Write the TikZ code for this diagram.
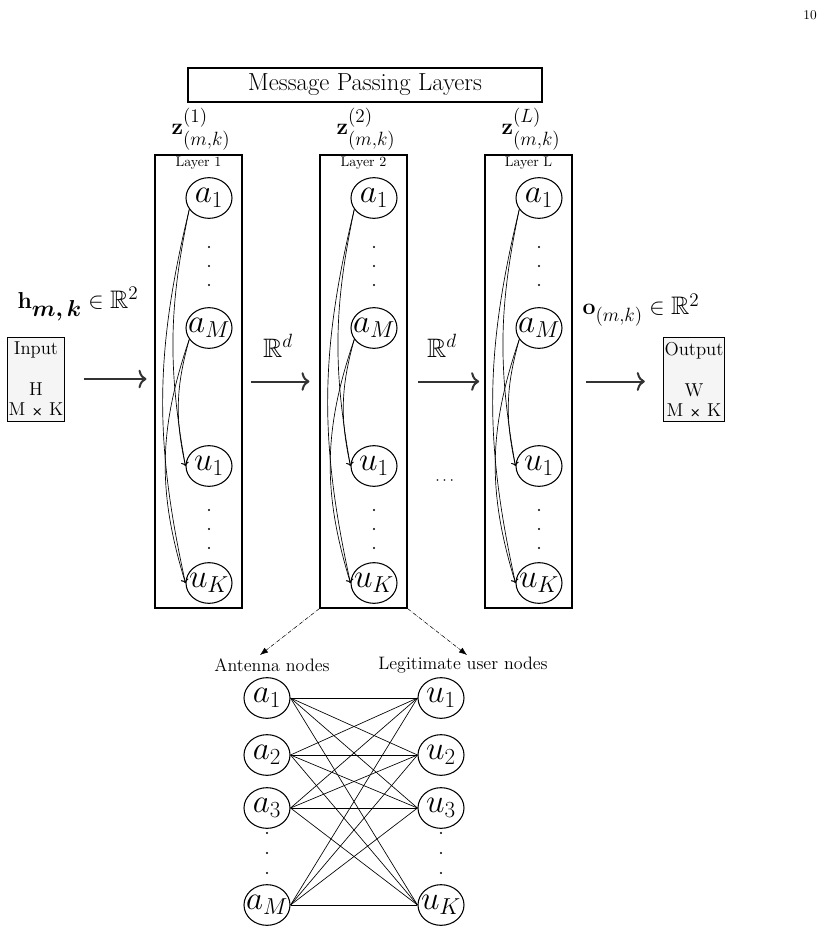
\documentclass[tikz,border=0pt]{standalone}
\usepackage{amsmath,amssymb,bm}
\usetikzlibrary{arrows.meta,shapes.geometric}

\newcommand{\vx}[2]{\makebox[0pt]{$#1_{#2}$}}
\newcommand{\mxk}{M {\fontsize{10}{12}\selectfont\sffamily\bfseries ×} K}

\begin{document}
\begin{tikzpicture}[x=0.75pt,y=0.75pt,yscale=-1,
  nd/.style={ellipse,draw,line width=0.8pt,minimum width=34.5pt,minimum height=30.5pt,inner sep=0pt,font=\fontsize{24}{28}\selectfont},
  layerbox/.style={draw,line width=0.8pt,minimum width=65.25pt,minimum height=339.75pt,inner sep=0pt},
  iobox/.style={draw,fill=gray!8,line width=0.6pt,align=center,inner sep=1pt,minimum width=42pt,minimum height=63pt,font=\fontsize{14}{15}\selectfont},
  flow/.style={-{To[length=6pt,width=14pt]},line width=1.5pt,draw=black!80},
  msg/.style={->,line width=0.5pt},
  bip/.style={line width=0.5pt},
  lbl/.style={font=\fontsize{19}{22}\selectfont}]
\path[use as bounding box] (0,0) rectangle (824,934);

% Page number
\node (pg) at (810,15) {\fontsize{10}{12}\selectfont 10};

% Title
\node[draw,line width=1.5pt,minimum width=265.5pt,minimum height=25.5pt,font=\fontsize{18.5}{20}\selectfont] (title) at (365,85) {Message Passing Layers};

% Input / Output
\node[iobox] (in) at (36,379) {Input\\[16pt]H\\\mxk};
\node[iobox] (out) at (694,379.5) {Output\\[16pt]W\\\mxk};
\node[lbl] (hlab) at (78,304) {$\mathbf{h}_{\textstyle\boldsymbol{m,k}}\in\mathbb{R}^2$};
\node[lbl] (olab) at (641,310) {$\mathbf{o}_{(m,k)}\in\mathbb{R}^2$};

% Layer boxes
\node[layerbox] (L1) at (198.5,381.5) {};
\node[layerbox] (L2) at (363.5,381.5) {};
\node[layerbox] (LL) at (528.5,381.5) {};
\node[font=\fontsize{10.5}{12}\selectfont] (t1) at (198.5,163) {Layer 1};
\node[font=\fontsize{10.5}{12}\selectfont] (t2) at (363.5,163) {Layer 2};
\node[font=\fontsize{10.5}{12}\selectfont] (tL) at (528.5,163) {Layer L};
\node[lbl] (z1) at (201,129) {$\mathbf{z}^{(1)}_{(m,k)}$};
\node[lbl] (z2) at (366,129) {$\mathbf{z}^{(2)}_{(m,k)}$};
\node[lbl] (zL) at (531,129) {$\mathbf{z}^{(L)}_{(m,k)}$};

% Layer 1
\node[nd] (l1a1) at (209,198) {\vx{a}{1}};
\node[nd] (l1aM) at (209,328) {\vx{a}{M}};
\node[nd] (l1u1) at (209,466) {\vx{u}{1}};
\node[nd] (l1uK) at (209,583) {\vx{u}{K}};
\foreach \y in {247,266,285,510,529,548} \fill (209,\y) circle (1.1);
\draw[msg] (l1a1.210) to[bend left=11] (l1u1.west);
\draw[msg] (l1a1.210) to[bend left=13] (l1uK.west);
\draw[msg] (l1aM.210) to[bend left=14] (l1u1.west);
\draw[msg] (l1aM.210) to[bend left=18] (l1uK.west);

% Layer 2
\node[nd] (l2a1) at (374,198) {\vx{a}{1}};
\node[nd] (l2aM) at (374,328) {\vx{a}{M}};
\node[nd] (l2u1) at (374,466) {\vx{u}{1}};
\node[nd] (l2uK) at (374,583) {\vx{u}{K}};
\foreach \y in {247,266,285,510,529,548} \fill (374,\y) circle (1.1);
\draw[msg] (l2a1.210) to[bend left=11] (l2u1.west);
\draw[msg] (l2a1.210) to[bend left=13] (l2uK.west);
\draw[msg] (l2aM.210) to[bend left=14] (l2u1.west);
\draw[msg] (l2aM.210) to[bend left=18] (l2uK.west);

% Layer L
\node[nd] (lLa1) at (539,198) {\vx{a}{1}};
\node[nd] (lLaM) at (539,328) {\vx{a}{M}};
\node[nd] (lLu1) at (539,466) {\vx{u}{1}};
\node[nd] (lLuK) at (539,583) {\vx{u}{K}};
\foreach \y in {247,266,285,510,529,548} \fill (539,\y) circle (1.1);
\draw[msg] (lLa1.210) to[bend left=11] (lLu1.west);
\draw[msg] (lLa1.210) to[bend left=13] (lLuK.west);
\draw[msg] (lLaM.210) to[bend left=14] (lLu1.west);
\draw[msg] (lLaM.210) to[bend left=18] (lLuK.west);

% Flow arrows
\draw[flow,shorten <=14pt,shorten >=6pt] (in.east) -- (in.east -| L1.west);
\draw[flow,shorten <=6pt,shorten >=7.5pt] (L1.east) -- (L2.west);
\draw[flow,shorten <=8pt,shorten >=4pt] (L2.east) -- (LL.west);
\draw[flow,shorten <=10pt,shorten >=13.5pt] (LL.east) -- (LL.east -| out.west);
\node[font=\fontsize{20}{24}\selectfont] (rd1) at (278,346) {$\mathbb{R}^d$};
\node[font=\fontsize{20}{24}\selectfont] (rd2) at (442,346) {$\mathbb{R}^d$};
\node[font=\fontsize{12}{14}\selectfont] (skip) at (446,481) {$\cdots$};

% Bipartite graph
\node[font=\fontsize{13.5}{16}\selectfont] (ant) at (272,665) {Antenna nodes};
\node[font=\fontsize{13.5}{16}\selectfont] (usr) at (463,665) {Legitimate user nodes};
\coordinate (antTip) at (260,655);
\coordinate (usrTip) at (467,655);
\draw[densely dashdotted,-{Latex[length=6pt]}] (L2.south west) -- (antTip);
\draw[densely dashdotted,-{Latex[length=6pt]}] (L2.south east) -- (usrTip);

\node[nd] (a1) at (267,698) {\vx{a}{1}};
\node[nd] (a2) at (267,755) {\vx{a}{2}};
\node[nd] (a3) at (267,808) {\vx{a}{3}};
\node[nd] (aM) at (267,905) {\vx{a}{M}};
\node[nd] (u1) at (441,698) {\vx{u}{1}};
\node[nd] (u2) at (441,755) {\vx{u}{2}};
\node[nd] (u3) at (441,808) {\vx{u}{3}};
\node[nd] (uK) at (441,905) {\vx{u}{K}};
\foreach \y in {833,853,873} {\fill (267,\y) circle (1.1); \fill (441,\y) circle (1.1);}

\draw[bip] (a1.east) -- (u1.west);
\draw[bip] (a1.east) -- (u2.west);
\draw[bip] (a1.east) -- (u3.west);
\draw[bip] (a1.east) -- (uK.west);
\draw[bip] (a2.east) -- (u1.west);
\draw[bip] (a2.east) -- (u2.west);
\draw[bip] (a2.east) -- (u3.west);
\draw[bip] (a2.east) -- (uK.west);
\draw[bip] (a3.east) -- (u1.west);
\draw[bip] (a3.east) -- (u2.west);
\draw[bip] (a3.east) -- (u3.west);
\draw[bip] (a3.east) -- (uK.west);
\draw[bip] (aM.east) -- (u1.west);
\draw[bip] (aM.east) -- (u2.west);
\draw[bip] (aM.east) -- (u3.west);
\draw[bip] (aM.east) -- (uK.west);

\end{tikzpicture}
\end{document}
